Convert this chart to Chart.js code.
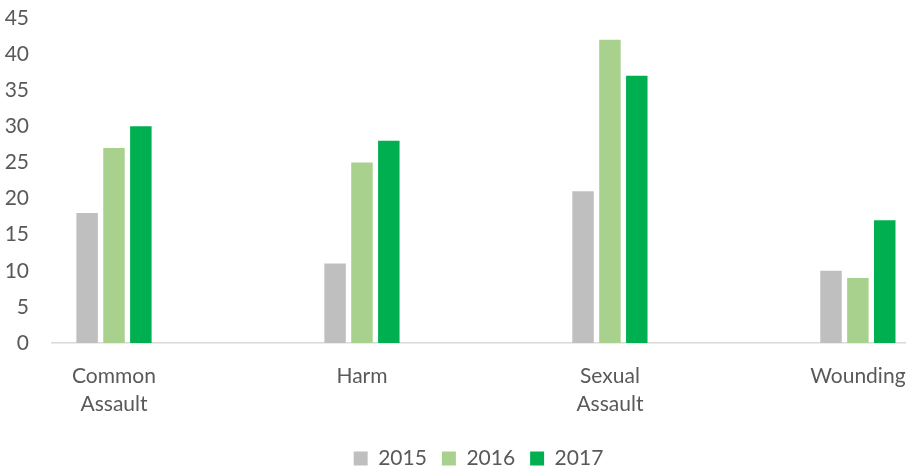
<!DOCTYPE html>
<html>
<head>
<meta charset="utf-8">
<script src="https://cdn.jsdelivr.net/npm/chart.js@4/dist/chart.umd.min.js"></script>
<style>
  html, body { margin: 0; padding: 0; background: #fff; }
  #wrap { width: 909px; height: 469px; }
</style>
</head>
<body>
<div id="wrap"><canvas id="c" width="909" height="469"></canvas></div>
<script>
const categorias = [["Common", "Assault"], "Harm", ["Sexual", "Assault"], "Wounding"];
const anos = ["2015", "2016", "2017"];
const valores2015 = [18, 11, 21, 10];
const valores2016 = [27, 25, 42, 9];
const valores2017 = [30, 28, 37, 17];
const cores = ["#BFBFBF", "#A9D18E", "#00B050"];
const yTicks = [0, 5, 10, 15, 20, 25, 30, 35, 40, 45];

const fonte = "Lato, 'Open Sans', sans-serif";
const cinza = "#595959";

const series = [valores2015, valores2016, valores2017];

const datasets = series.map((vals, i) => ({
  label: anos[i],
  data: vals.map((v, k) => ({ x: k, y: v })),
  backgroundColor: cores[i],
  borderWidth: 0,
  categoryPercentage: 0.325,
  barPercentage: 0.8
}));

new Chart(document.getElementById("c"), {
  type: "bar",
  data: { datasets },
  options: {
    responsive: false,
    animation: false,
    // bottom negativo empurra a legenda um pouco pra baixo
    layout: { padding: { top: 18, right: 4, bottom: -10, left: 0 } },
    plugins: {
      tooltip: { enabled: false },
      legend: {
        position: "bottom",
        fullSize: false,
        labels: {
          boxWidth: 14,
          boxHeight: 14,
          padding: 15,
          color: cinza,
          font: { family: fonte, size: 21 }
        }
      }
    },
    scales: {
      x: {
        type: "linear",
        min: -0.25,
        max: 3.19,
        offset: false,
        afterBuildTicks: (s) => { s.ticks = categorias.map((_, i) => ({ value: i })); },
        afterFit: (s) => { s.height = 90; s.paddingLeft = 0; s.paddingRight = 0; },
        grid: { display: false, drawTicks: false },
        border: { display: true, color: "#D9D9D9", width: 1.5 },
        ticks: {
          padding: 19,
          color: cinza,
          font: { family: fonte, size: 21, lineHeight: 1.35 },
          maxRotation: 0,
          autoSkip: false,
          callback: (v) => categorias[v]
        }
      },
      y: {
        min: 0,
        max: 45,
        afterBuildTicks: (s) => { s.ticks = yTicks.map(v => ({ value: v })); },
        afterFit: (s) => { s.width = 52; s.paddingTop = 0; s.paddingBottom = 0; },
        grid: { display: false, drawTicks: false },
        border: { display: false },
        ticks: {
          padding: 23,
          color: cinza,
          font: { family: fonte, size: 21 }
        }
      }
    }
  }
});
</script>
</body>
</html>
